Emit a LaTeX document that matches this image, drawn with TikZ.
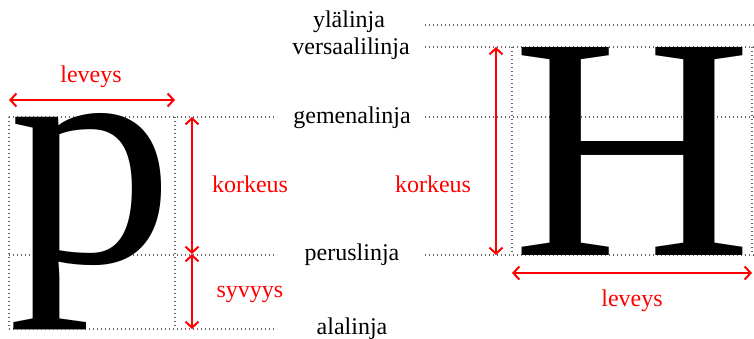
\documentclass[tikz,border=0pt]{standalone}
\usepackage{fontspec}
\usepackage{graphicx}
\setmainfont{Liberation Serif}
\usetikzlibrary{arrows.meta}
\begin{document}
\begin{tikzpicture}[x=1pt,y=-1pt,
  guide/.style={draw=black!60, line width=1.3pt, dash pattern=on 1.3pt off 2.7pt},
  dim/.style={draw=red, line width=2pt, {Straight Barb[length=6pt,width=13pt]}-{Straight Barb[length=6pt,width=13pt]}},
  lbl/.style={font=\fontsize{24}{28}\selectfont, anchor=base, inner sep=0pt},
  rlbl/.style={lbl, text=red},
  glyph/.style={inner sep=0pt, outer sep=0pt, anchor=north west}]
\useasboundingbox (0,0) rectangle (754,339);

% guide coordinates
\coordinate (yl1) at (425,25);  \coordinate (yl2) at (754,25);
\coordinate (ve1) at (425,47);  \coordinate (ve2) at (754,47);
\coordinate (geL1) at (9,117);  \coordinate (geL2) at (277,117);
\coordinate (geR1) at (425,117); \coordinate (geR2) at (754,117);
\coordinate (peL1) at (9,255);  \coordinate (peL2) at (277,255);
\coordinate (peR1) at (425,255); \coordinate (peR2) at (754,255);
\coordinate (alL1) at (9,329);  \coordinate (alL2) at (277,329);
\coordinate (pbL) at (9,117);   \coordinate (pbLb) at (9,329);
\coordinate (pbR) at (175,117); \coordinate (pbRb) at (175,329);
\coordinate (hbL) at (512,47);  \coordinate (hbLb) at (512,255);
\coordinate (hbR) at (752,47);  \coordinate (hbRb) at (752,255);

\draw[guide] (yl1) -- (yl2);
\draw[guide] (ve1) -- (ve2);
\draw[guide] (geL1) -- (geL2);
\draw[guide] (geR1) -- (geR2);
\draw[guide] (peL1) -- (peL2);
\draw[guide] (peR1) -- (peR2);
\draw[guide] (alL1) -- (alL2);
\draw[guide] (pbL) -- (pbLb);
\draw[guide] (pbR) -- (pbRb);
\draw[guide] (hbL) -- (hbLb);
\draw[guide] (hbR) -- (hbRb);

% glyphs
\node[glyph] (pglyph) at (9,113) {\resizebox*{166pt}{216pt}{p}};
\node[glyph] (hglyph) at (512,47) {\resizebox*{240pt}{208pt}{H}};

% line labels
\node[lbl] (ylalinja) at (349,28) {ylälinja};
\node[lbl] (versaali) at (351,55) {versaalilinja};
\node[lbl] (gemena) at (352,124) {gemenalinja};
\node[lbl] (perus) at (352,260) {peruslinja};
\node[lbl] (ala) at (352,334) {alalinja};

% dimension arrows
\coordinate (lwA) at (9,100);   \coordinate (lwB) at (175,100);
\coordinate (lkA) at (192,117); \coordinate (lkB) at (192,254);
\coordinate (lsA) at (192,254); \coordinate (lsB) at (192,329);
\coordinate (rkA) at (496,47);  \coordinate (rkB) at (496,255);
\coordinate (rwA) at (512,273); \coordinate (rwB) at (752,273);
\draw[dim] (lwA) -- (lwB);
\draw[dim] (lkA) -- (lkB);
\draw[dim] (lsA) -- (lsB);
\draw[dim] (rkA) -- (rkB);
\draw[dim] (rwA) -- (rwB);

\node[rlbl] (levL) at (91,83) {leveys};
\node[rlbl] (korL) at (250,193) {korkeus};
\node[rlbl] (syv) at (250,297) {syvyys};
\node[rlbl] (korR) at (433,193) {korkeus};
\node[rlbl] (levR) at (632,306) {leveys};
\end{tikzpicture}
\end{document}
